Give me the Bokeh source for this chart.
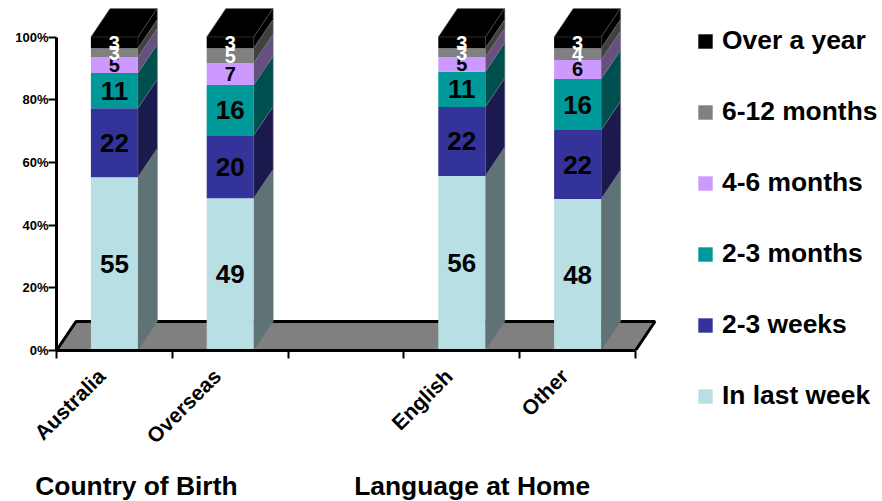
import math
from bokeh.plotting import figure
from bokeh.models import FixedTicker, Legend, LegendItem, LinearAxis, ColumnDataSource, Range1d
from bokeh.core.properties import value
from bokeh.embed import file_html
from bokeh.resources import INLINE

categories = ["Australia", "Overseas", "English", "Other"]
cat_pos = [0.5, 1.5, 3.5, 4.5]
groups = ["Country of Birth", "Language at Home"]
group_pos = [0.69, 3.59]
series = ["In last week", "2-3 weeks", "2-3 months", "4-6 months", "6-12 months", "Over a year"]
in_last_week = [55.3, 48.6, 55.7, 48.3]
two_three_weeks = [22.0, 20.1, 22.0, 22.0]
two_three_months = [11.2, 16.0, 11.2, 16.3]
four_six_months = [5.1, 7.0, 4.7, 6.1]
six_twelve_months = [2.8, 4.7, 2.8, 3.7]
over_a_year = [3.6, 3.6, 3.6, 3.6]
labels_last_week = [55, 49, 56, 48]
labels_weeks = [22, 20, 22, 22]
labels_months = [11, 16, 11, 16]
labels_four = [5, 7, 5, 6]
labels_six = [3, 5, 3, 4]
labels_year = [3, 3, 3, 3]
colors = ["#B8E0E4", "#333399", "#009999", "#CC99FF", "#808080", "#000000"]
side_colors = ["#5F7376", "#1A1A4F", "#004F4F", "#665080", "#404040", "#000000"]
y_ticks = [0, 20, 40, 60, 80, 100]

vals = [in_last_week, two_three_weeks, two_three_months, four_six_months, six_twelve_months, over_a_year]
labs = [labels_last_week, labels_weeks, labels_months, labels_four, labels_six, labels_year]
label_colors = ["black", "black", "black", "black", "white", "white"]

FONT = "Liberation Sans"
PX_X, PX_Y = 115.8, 3.135
LEFT, TOP = 56, 8
FRAME_W = 640
BW = 47 / PX_X
DX, DY = 19.5 / PX_X, 29 / PX_Y
LABEL_SHIFT = 13 / PX_X

p = figure(frame_width=FRAME_W, frame_height=342, output_backend="svg", toolbar_location=None,
           x_range=Range1d(0, FRAME_W / PX_X), y_range=Range1d(0, 342 / PX_Y),
           min_border_left=LEFT, min_border_right=0, min_border_top=TOP,
           min_border_bottom=0, outline_line_color=None)
p.grid.visible = False

# y axis
ya = p.yaxis[0]
ya.ticker = FixedTicker(ticks=y_ticks)
ya.major_label_overrides = {t: f"{t}%" for t in y_ticks}
ya.bounds = (0, 100)
ya.axis_line_width = 3
ya.axis_line_color = "black"
ya.major_tick_line_width = 2
ya.major_tick_out = 8
ya.major_tick_in = 0
ya.minor_tick_line_color = None
ya.major_label_text_font = FONT
ya.major_label_text_font_style = "bold"
ya.major_label_text_font_size = "13px"
ya.major_label_text_color = "black"
ya.major_label_standoff = 0

# x axis
label_pos = [c - LABEL_SHIFT for c in cat_pos]
xa = p.xaxis[0]
xa.ticker = FixedTicker(ticks=label_pos, minor_ticks=[0, 1, 2, 3, 4, 5])
xa.major_label_overrides = dict(zip(label_pos, categories))
xa.bounds = (0, 5)
xa.axis_line_width = 3
xa.axis_line_color = "black"
xa.major_tick_line_color = None
xa.major_tick_out = 0
xa.major_tick_in = 0
xa.minor_tick_line_width = 2
xa.minor_tick_line_color = "black"
xa.minor_tick_out = 8
xa.minor_tick_in = 0
xa.major_label_orientation = math.pi / 4
xa.major_label_text_font = FONT
xa.major_label_text_font_style = "bold"
xa.major_label_text_font_size = "21px"
xa.major_label_text_color = "black"
xa.major_label_standoff = 14

# group labels: a second axis below the category axis
ga = LinearAxis(ticker=FixedTicker(ticks=group_pos, minor_ticks=[]),
                major_label_overrides=dict(zip(group_pos, groups)),
                axis_line_color=None, major_tick_line_color=None, minor_tick_line_color=None,
                major_tick_out=0, major_tick_in=0, minor_tick_out=0, minor_tick_in=0,
                major_label_standoff=12, major_label_text_font=FONT,
                major_label_text_font_style="bold", major_label_text_font_size="26.4px",
                major_label_text_color="black")
p.add_layout(ga, "below")

# floor
p.patch([0, 5, 5 + DX, DX], [0, 0, DY, DY], fill_color="#808080",
        line_color="black", line_width=3)

# stacks
renderers = []
bottoms = [0.0] * len(categories)
for i, name in enumerate(series):
    tops = [b + v for b, v in zip(bottoms, vals[i])]
    xs, ys = [], []
    for x, b, t in zip(cat_pos, bottoms, tops):
        r = x + BW / 2
        xs.append([r, r + DX, r + DX, r])
        ys.append([b, b + DY, t + DY, t])
    p.patches(xs, ys, fill_color=side_colors[i], line_color="#777777", line_width=0.5)
    src = ColumnDataSource(dict(x=cat_pos, bottom=bottoms, top=tops))
    rr = p.vbar(x="x", bottom="bottom", top="top", width=BW, source=src,
                fill_color=colors[i], line_color=None)
    renderers.append(rr)
    bottoms = tops

# top faces
txs, tys = [], []
for x, t in zip(cat_pos, bottoms):
    l, r = x - BW / 2, x + BW / 2
    txs.append([l, r, r + DX, l + DX])
    tys.append([t, t, t + DY, t + DY])
p.patches(txs, tys, fill_color="#000000", line_color="#555555", line_width=0.5)

# data labels
bottoms = [0.0] * len(categories)
for i in range(len(series)):
    mids = [b + v / 2 for b, v in zip(bottoms, vals[i])]
    txt = [str(v) for v in labs[i]]
    sizes = ["26px" if v >= 10 else "20px" for v in labs[i]]
    p.text(cat_pos, mids, text=txt, text_color=label_colors[i], text_align="center",
           text_baseline="middle", text_font=value(FONT), text_font_style="bold",
           text_font_size=sizes)
    bottoms = [b + v for b, v in zip(bottoms, vals[i])]

# legend
items = [LegendItem(label=series[i], renderers=[renderers[i]]) for i in reversed(range(len(series)))]
legend = Legend(items=items, location=(0, -61), orientation="vertical",
                border_line_color=None, background_fill_color=None, margin=0, padding=0,
                glyph_width=18, glyph_height=18, label_standoff=8, spacing=40,
                label_text_font=FONT, label_text_font_style="bold",
                label_text_font_size="26.4px", label_text_color="black")
p.add_layout(legend, "right")

open("out.html", "w").write(file_html(p, INLINE))
